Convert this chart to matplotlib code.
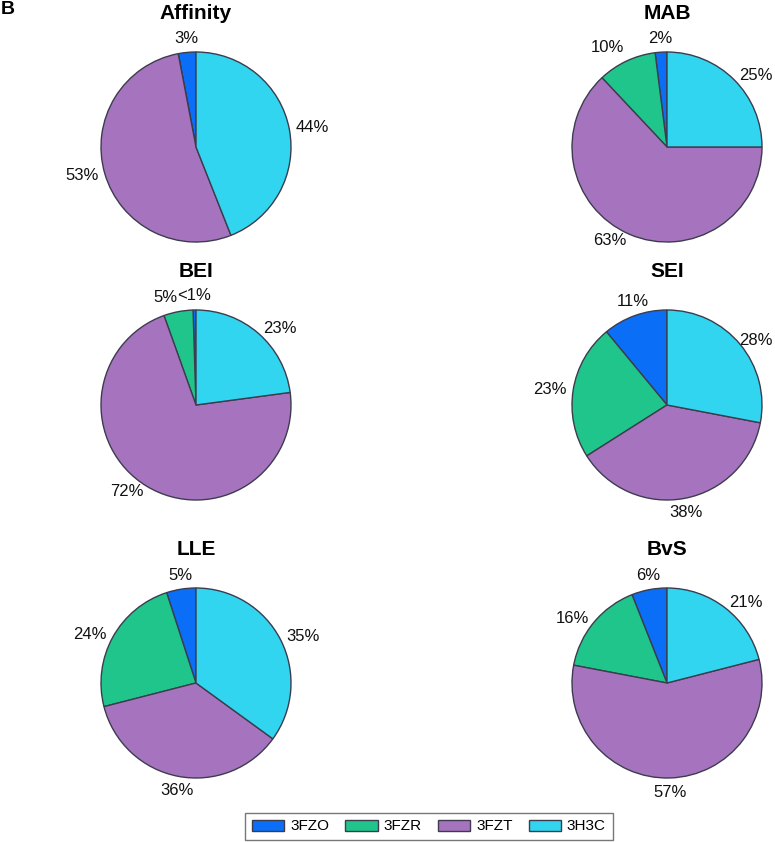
import numpy as np
import matplotlib
matplotlib.use("Agg")
import matplotlib.pyplot as plt

plt.rcParams['font.family'] = ['Liberation Sans', 'DejaVu Sans']

# ==== DATA ====
structures = ["3FZO", "3FZR", "3FZT", "3H3C"]
colors = ["#0a6ef6", "#20c58c", "#a674be", "#31d5ef"]

titles = ["Affinity", "MAB", "BEI", "SEI", "LLE", "BvS"]
affinity = [3, 0, 53, 44]
mab = [2, 10, 63, 25]
bei = [0.5, 5, 72, 23]
sei = [11, 23, 38, 28]
lle = [5, 24, 36, 35]
bvs = [6, 16, 57, 21]
all_values = [affinity, mab, bei, sei, lle, bvs]

# ==== LAYOUT (pixels) ====
W, H = 775, 842
col_x = [196, 667]
row_y = [147, 405, 683]
R = 95  # pie radius in px


def pct_label(v):
    if v == 0:
        return ""
    if v < 1:
        return "<1%"
    return f"{v:.0f}%"


fig = plt.figure(figsize=(W / 100, H / 100), dpi=100)
renderer = fig.canvas.get_renderer()

wedges_for_legend = None
for i, (title, vals) in enumerate(zip(titles, all_values)):
    cx = col_x[i % 2]
    cy = row_y[i // 2]
    size = 2.5 * R  # pie uses limits of +-1.25, so 1 data unit = R px
    ax = fig.add_axes([(cx - size / 2) / W, 1 - (cy + size / 2) / H, size / W, size / H])
    wedges, texts = ax.pie(vals, colors=colors, startangle=90, counterclock=True,
                           labels=[pct_label(v) for v in vals], labeldistance=1.07,
                           wedgeprops=dict(edgecolor="#3c3c4e", linewidth=1.0),
                           textprops=dict(fontsize=12, color="#111111"))
    # alignment so labels sit just outside the rim
    for w, t in zip(wedges, texts):
        ang = np.deg2rad((w.theta1 + w.theta2) / 2)
        c, s = np.cos(ang), np.sin(ang)
        t.set_ha("left" if c > 0.35 else ("right" if c < -0.35 else "center"))
        t.set_va("bottom" if s > 0.85 else ("top" if s < -0.95 else "center"))
    # labels of thin neighbouring slices: push the left one aside
    shown = [t for t in texts if t.get_text()]
    for a, b in zip(shown, shown[1:]):
        if a.get_window_extent(renderer).overlaps(b.get_window_extent(renderer)):
            b.set_ha("right")
    # keep labels inside the figure
    for t in shown:
        bb = t.get_window_extent(renderer)
        if bb.x1 > W - 2:
            x, y = t.get_position()
            t.set_position((x - (bb.x1 - (W - 2)) / R, y))
    ax.text(0, 1.41, title, ha="center", va="center", fontsize=15, fontweight="bold")
    if i == 1:
        wedges_for_legend = wedges

fig.text(0.001, 0.999, "B", ha="left", va="top", fontsize=14, fontweight="bold")

leg = fig.legend(wedges_for_legend, structures, loc="center", ncol=4,
                 bbox_to_anchor=(429 / W, 1 - 826.5 / H), fontsize=11,
                 frameon=True, fancybox=False, edgecolor="#555555",
                 handlelength=2.1, handleheight=0.75, handletextpad=0.4,
                 columnspacing=1.05, borderpad=0.45, borderaxespad=0)
leg.get_frame().set_linewidth(1.0)

fig.savefig("out.png", dpi=100)
